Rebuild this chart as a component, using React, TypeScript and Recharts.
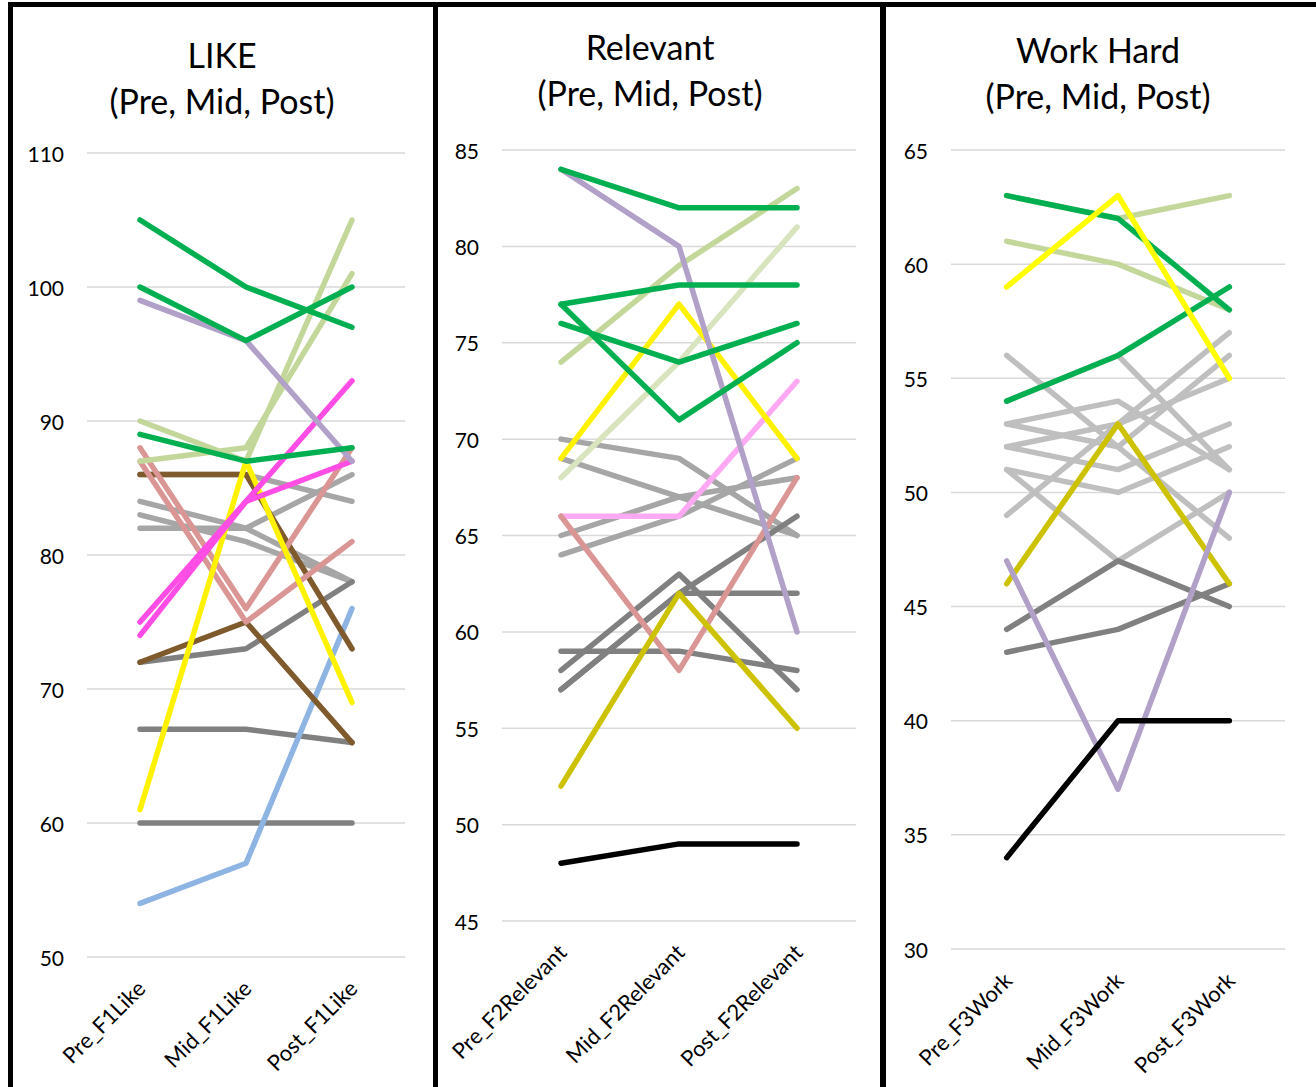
import React from 'react';
import { LineChart, Line, XAxis, YAxis, CartesianGrid } from 'recharts';

// ---- LIKE ----
const likeCats = ['Pre_F1Like', 'Mid_F1Like', 'Post_F1Like'];
const likeTicks = [50, 60, 70, 80, 90, 100, 110];
const likeValues = [
  [86, 86, 84],
  [84, 82, 86],
  [83, 81, 78],
  [82, 82, 78],
  [72, 73, 78],
  [67, 67, 66],
  [60, 60, 60],
  [54, 57, 76],
  [86, 86, 73],
  [72, 75, 66],
  [88, 76, 88],
  [87, 75, 81],
  [61, 87, 69],
  [75, 84, 87],
  [74, 84, 93],
  [90, 87, 105],
  [87, 88, 101],
  [99, 96, 87],
  [105, 100, 97],
  [100, 96, 100],
  [89, 87, 88],
];

// ---- Relevant ----
const relCats = ['Pre_F2Relevant', 'Mid_F2Relevant', 'Post_F2Relevant'];
const relTicks = [45, 50, 55, 60, 65, 70, 75, 80, 85];
const relValues = [
  [70, 69, 65],
  [69, 67, 65],
  [65, 67, 68],
  [64, 66, 69],
  [59, 59, 58],
  [58, 63, 57],
  [57, 62, 62],
  [57, 62, 66],
  [66, 66, 73],
  [66, 58, 68],
  [52, 62, 55],
  [68, 74, 81],
  [74, 79, 83],
  [69, 77, 69],
  [84, 80, 60],
  [84, 82, 82],
  [77, 78, 78],
  [77, 71, 75],
  [76, 74, 76],
  [48, 49, 49],
];

// ---- Work Hard ----
const workCats = ['Pre_F3Work', 'Mid_F3Work', 'Post_F3Work'];
const workTicks = [30, 35, 40, 45, 50, 55, 60, 65];
const workValues = [
  [56, 52, 48],
  [54, 56, 51],
  [53, 54, 51],
  [53, 52, 56],
  [52, 53, 55],
  [52, 51, 53],
  [51, 50, 52],
  [49, 53, 57],
  [51, 47, 50],
  [44, 47, 45],
  [43, 44, 46],
  [46, 53, 46],
  [47, 37, 50],
  [61, 60, 58],
  [63, 62, 63],
  [54, 56, 59],
  [63, 62, 58],
  [59, 63, 55],
  [34, 40, 40],
];

const GREEN = '#00B050';
const LGREEN = '#C4D79B';
const VLGREEN = '#D7E4BD';
const PURPLE = '#B1A0C7';
const MAGENTA = '#FF4DE6';
const SALMON = '#DA9694';
const BROWN = '#7E5A2C';
const YELLOW = '#FFF200';
const GRAY = '#A6A6A6';
const LGRAY = '#BFBFBF';
const DGRAY = '#808080';
const BLUE = '#8DB4E2';
const PINK = '#FFA9F4';
const OLIVE = '#CCC200';

const likeColors = [
  GRAY, GRAY, GRAY, GRAY, DGRAY, DGRAY, DGRAY, BLUE, BROWN, BROWN, SALMON, SALMON,
  YELLOW, MAGENTA, MAGENTA, LGREEN, LGREEN, PURPLE, GREEN, GREEN, GREEN,
];
const relColors = [
  GRAY, GRAY, GRAY, GRAY, DGRAY, DGRAY, DGRAY, DGRAY, PINK, SALMON, OLIVE, VLGREEN,
  LGREEN, YELLOW, PURPLE, GREEN, GREEN, GREEN, GREEN, '#000000',
];
const workColors = [
  LGRAY, LGRAY, LGRAY, LGRAY, LGRAY, LGRAY, LGRAY, LGRAY, LGRAY, DGRAY, DGRAY, OLIVE,
  PURPLE, LGREEN, LGREEN, GREEN, GREEN, '#FFFF00', '#000000',
];

const FONT = 'Lato, "Liberation Sans", sans-serif';
const Y_AXIS_W = 100;
const CHART_H = 1100;

type PanelProps = {
  title: string[];
  titleX: number;
  titleY: number;
  cats: string[];
  values: number[][];
  colors: string[];
  ticks: number[];
  plotLeft: number;
  plotTop: number;
  plotW: number;
  plotH: number;
};

function Panel(p: PanelProps) {
  const rows = p.cats.map((c, i) => {
    const r: any = { cat: c };
    p.values.forEach((v, k) => {
      r['s' + k] = v[i];
    });
    return r;
  });
  const bottom = p.plotTop + p.plotH;
  const pad = p.plotW / 6;

  const yTick = (t: any) => (
    <text
      x={Y_AXIS_W - 23}
      y={t.y}
      textAnchor="end"
      dominantBaseline="central"
      fontFamily={FONT}
      fontSize={21}
      fill="#000"
    >
      {t.payload.value}
    </text>
  );

  const xTick = (t: any) => {
    const ax = t.x + 7;
    const ay = bottom + 33;
    return (
      <text
        x={ax}
        y={ay}
        transform={`rotate(-45 ${ax} ${ay})`}
        textAnchor="end"
        fontFamily={FONT}
        fontSize={22}
        fill="#000"
      >
        {t.payload.value}
      </text>
    );
  };

  return (
    <>
      <div
        style={{
          position: 'absolute',
          left: p.titleX - 200,
          top: p.titleY - 23,
          width: 400,
          textAlign: 'center',
          fontFamily: FONT,
          fontSize: 34,
          lineHeight: '46px',
          color: '#000',
        }}
      >
        {p.title.map((t) => (
          <div key={t}>{t}</div>
        ))}
      </div>
      <div style={{ position: 'absolute', left: p.plotLeft - Y_AXIS_W, top: 0 }}>
        <LineChart
          width={Y_AXIS_W + p.plotW + 5}
          height={CHART_H}
          data={rows}
          margin={{ top: p.plotTop, right: 5, left: 0, bottom: 0 }}
        >
          <CartesianGrid vertical={false} stroke="#D9D9D9" strokeWidth={1.5} />
          <XAxis
            dataKey="cat"
            interval={0}
            axisLine={false}
            tickLine={false}
            height={CHART_H - bottom}
            padding={{ left: pad, right: pad }}
            tick={xTick}
          />
          <YAxis
            type="number"
            domain={[p.ticks[0], p.ticks[p.ticks.length - 1]]}
            ticks={p.ticks}
            axisLine={false}
            tickLine={false}
            width={Y_AXIS_W}
            tick={yTick}
          />
          {p.values.map((_, k) => (
            <Line
              key={k}
              type="linear"
              dataKey={'s' + k}
              stroke={p.colors[k]}
              strokeWidth={5.5}
              strokeLinecap="round"
              strokeLinejoin="round"
              dot={false}
              activeDot={false}
              isAnimationActive={false}
            />
          ))}
        </LineChart>
      </div>
    </>
  );
}

const frame = (left: number, width: number): React.CSSProperties => ({
  position: 'absolute',
  left,
  top: 2,
  width,
  height: 1100,
  border: '5px solid #000',
  boxSizing: 'border-box',
});

export default function App() {
  return (
    <div
      style={{
        position: 'absolute',
        left: 0,
        top: 0,
        width: 1316,
        height: 1087,
        overflow: 'hidden',
        background: '#fff',
      }}
    >
      <div style={frame(8, 430)} />
      <div style={frame(433, 452)} />
      <div style={frame(881, 445)} />
      <Panel
        title={['LIKE', '(Pre, Mid, Post)']}
        titleX={222}
        titleY={55}
        cats={likeCats}
        values={likeValues}
        colors={likeColors}
        ticks={likeTicks}
        plotLeft={87}
        plotTop={153}
        plotW={318}
        plotH={804}
      />
      <Panel
        title={['Relevant', '(Pre, Mid, Post)']}
        titleX={650}
        titleY={47}
        cats={relCats}
        values={relValues}
        colors={relColors}
        ticks={relTicks}
        plotLeft={502}
        plotTop={150}
        plotW={354}
        plotH={771}
      />
      <Panel
        title={['Work Hard', '(Pre, Mid, Post)']}
        titleX={1098}
        titleY={50}
        cats={workCats}
        values={workValues}
        colors={workColors}
        ticks={workTicks}
        plotLeft={951}
        plotTop={150}
        plotW={334}
        plotH={799}
      />
    </div>
  );
}
